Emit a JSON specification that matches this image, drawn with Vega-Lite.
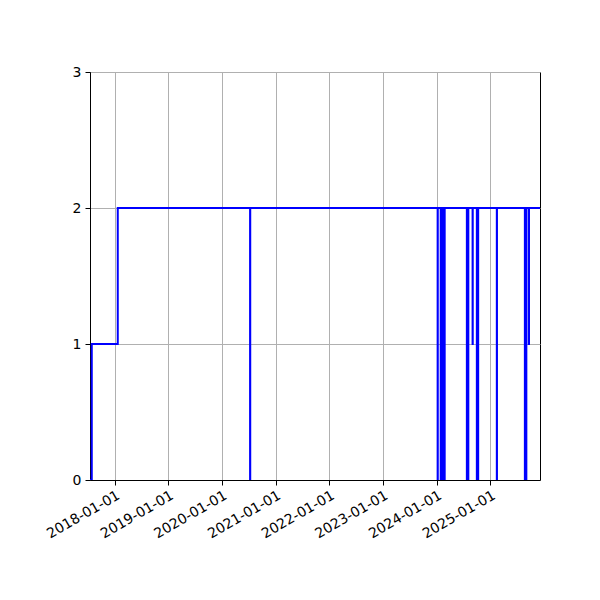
{
  "$schema": "https://vega.github.io/schema/vega-lite/v6.json",
  "width": 450,
  "height": 408,
  "autosize": "none",
  "padding": {"left": 90, "top": 72, "right": 60, "bottom": 120},
  "background": "white",
  "config": {
    "view": {"stroke": "black", "strokeWidth": 1},
    "axis": {
      "domainColor": "black",
      "tickColor": "black",
      "tickSize": 5,
      "labelColor": "black",
      "labelFont": "DejaVu Sans",
      "labelFontSize": 14,
      "gridColor": "#b0b0b0",
      "gridWidth": 1,
      "title": null
    }
  },
  "data": {
    "values": [
      {"date": "2017-07-16", "value": 0},
      {"date": "2017-07-28", "value": 1},
      {"date": "2018-01-21", "value": 2},
      {"date": "2020-07-10", "value": 0},
      {"date": "2020-07-11", "value": 2},
      {"date": "2024-01-08", "value": 0},
      {"date": "2024-01-09", "value": 2},
      {"date": "2024-01-29", "value": 0},
      {"date": "2024-01-30", "value": 2},
      {"date": "2024-02-12", "value": 0},
      {"date": "2024-02-13", "value": 2},
      {"date": "2024-02-24", "value": 0},
      {"date": "2024-02-25", "value": 2},
      {"date": "2024-07-25", "value": 0},
      {"date": "2024-07-26", "value": 2},
      {"date": "2024-08-03", "value": 0},
      {"date": "2024-08-04", "value": 2},
      {"date": "2024-09-02", "value": 1},
      {"date": "2024-09-03", "value": 2},
      {"date": "2024-10-01", "value": 0},
      {"date": "2024-10-02", "value": 2},
      {"date": "2024-10-09", "value": 0},
      {"date": "2024-10-10", "value": 2},
      {"date": "2025-02-14", "value": 0},
      {"date": "2025-02-15", "value": 2},
      {"date": "2025-08-24", "value": 0},
      {"date": "2025-08-25", "value": 2},
      {"date": "2025-09-02", "value": 0},
      {"date": "2025-09-03", "value": 2},
      {"date": "2025-09-20", "value": 1},
      {"date": "2025-09-21", "value": 2},
      {"date": "2025-12-05", "value": 2}
    ]
  },
  "mark": {"type": "line", "interpolate": "step-after", "color": "blue", "strokeWidth": 2, "clip": true},
  "encoding": {
    "x": {
      "field": "date",
      "type": "temporal",
      "scale": {
        "type": "utc",
        "domain": [
          {"year": 2017, "month": 7, "date": 16, "utc": true},
          {"year": 2025, "month": 12, "date": 5, "utc": true}
        ]
      },
      "axis": {
        "grid": true,
        "tickCount": {"interval": "year", "step": 1},
        "labelExpr": "utcFormat(datum.value, '%Y-%m-%d')",
        "labelOverlap": false,
        "labelAngle": -30,
        "labelAlign": "right",
        "labelBaseline": "top",
        "labelPadding": 3
      }
    },
    "y": {
      "field": "value",
      "type": "quantitative",
      "scale": {"domain": [0, 3], "nice": false},
      "axis": {"grid": true, "values": [0, 1, 2, 3], "labelPadding": 4}
    }
  }
}
